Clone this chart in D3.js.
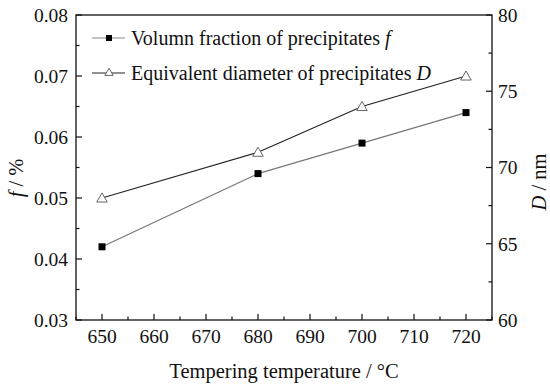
<!DOCTYPE html>
<html><head><meta charset="utf-8">
<script src="https://cdn.jsdelivr.net/npm/d3@7"></script>
<style>body{margin:0;background:#fff}svg{display:block}text{font-family:"Liberation Serif","Times New Roman",serif;fill:#111}</style>
</head><body>
<svg id="c" width="550" height="389"></svg>
<script>
const temps = [650, 680, 700, 720];
const fValues = [0.042, 0.054, 0.059, 0.064];
const dValues = [68, 71, 74, 76];
const xTicks = [650, 660, 670, 680, 690, 700, 710, 720];
const fTicks = [0.03, 0.04, 0.05, 0.06, 0.07, 0.08];
const dTicks = [60, 65, 70, 75, 80];

const svg = d3.select("#c");
const L = 76, R = 492, T = 15, B = 320;
const x = d3.scaleLinear().domain([645, 725]).range([L, R]);
const yf = d3.scaleLinear().domain([0.03, 0.08]).range([B, T]);
const yd = d3.scaleLinear().domain([60, 80]).range([B, T]);
const fs = 19.5;

// frame
svg.append("rect").attr("x", L).attr("y", T).attr("width", R - L).attr("height", B - T)
  .attr("fill", "none").attr("stroke", "#111").attr("stroke-width", 1.3);

// x axis
const xMinor = d3.range(645, 726, 5).filter(v => !xTicks.includes(v));
const gx = svg.append("g");
xTicks.forEach(v => gx.append("line").attr("x1", x(v)).attr("x2", x(v)).attr("y1", B).attr("y2", B - 6).attr("stroke", "#111").attr("stroke-width", 1.2));
xMinor.forEach(v => gx.append("line").attr("x1", x(v)).attr("x2", x(v)).attr("y1", B).attr("y2", B - 3.5).attr("stroke", "#111").attr("stroke-width", 1.2));
xTicks.forEach(v => gx.append("text").attr("x", x(v)).attr("y", 343).attr("text-anchor", "middle").attr("font-size", fs).text(v));

// left axis
const gl = svg.append("g");
fTicks.forEach(v => {
  gl.append("line").attr("x1", L).attr("x2", L + 6).attr("y1", yf(v)).attr("y2", yf(v)).attr("stroke", "#111").attr("stroke-width", 1.2);
  gl.append("text").attr("x", 68).attr("y", yf(v)).attr("dy", "0.35em").attr("text-anchor", "end").attr("font-size", fs).text(d3.format(".2f")(v));
});
d3.range(0.035, 0.08, 0.01).forEach(v => gl.append("line").attr("x1", L).attr("x2", L + 3.5).attr("y1", yf(v)).attr("y2", yf(v)).attr("stroke", "#111").attr("stroke-width", 1.2));

// right axis
const gr = svg.append("g");
dTicks.forEach(v => {
  gr.append("line").attr("x1", R).attr("x2", R - 6).attr("y1", yd(v)).attr("y2", yd(v)).attr("stroke", "#111").attr("stroke-width", 1.2);
  gr.append("text").attr("x", 498).attr("y", yd(v)).attr("dy", "0.35em").attr("text-anchor", "start").attr("font-size", fs).text(v);
});
[62.5, 67.5, 72.5, 77.5].forEach(v => gr.append("line").attr("x1", R).attr("x2", R - 3.5).attr("y1", yd(v)).attr("y2", yd(v)).attr("stroke", "#111").attr("stroke-width", 1.2));

// axis titles
svg.append("text").attr("x", 284).attr("y", 378).attr("text-anchor", "middle").attr("font-size", 20.5).text("Tempering temperature / °C");
const lt = svg.append("text").attr("transform", "translate(23,178) rotate(-90)").attr("text-anchor", "middle").attr("font-size", 20.5);
lt.append("tspan").attr("font-style", "italic").text("f");
lt.append("tspan").text(" / %");
const rt = svg.append("text").attr("transform", "translate(546,182) rotate(-90)").attr("text-anchor", "middle").attr("font-size", 20.5);
rt.append("tspan").attr("font-style", "italic").text("D");
rt.append("tspan").text(" / nm");

// series lines
const fData = temps.map((t, i) => [t, fValues[i]]);
const dData = temps.map((t, i) => [t, dValues[i]]);
svg.append("path").datum(fData).attr("fill", "none").attr("stroke", "#777").attr("stroke-width", 1.2)
  .attr("d", d3.line().x(d => x(d[0])).y(d => yf(d[1])));
svg.append("path").datum(dData).attr("fill", "none").attr("stroke", "#222").attr("stroke-width", 1.2)
  .attr("d", d3.line().x(d => x(d[0])).y(d => yd(d[1])));

const tri = d3.symbol().type(d3.symbolTriangle).size(48);
svg.selectAll(".sq").data(fData).join("rect").attr("x", d => x(d[0]) - 3.5).attr("y", d => yf(d[1]) - 3.5)
  .attr("width", 7).attr("height", 7).attr("fill", "#000");
svg.selectAll(".tri").data(dData).join("path").attr("d", tri)
  .attr("transform", d => `translate(${x(d[0])},${yd(d[1]) + 1})`).attr("fill", "#fff").attr("stroke", "#666").attr("stroke-width", 1);

// legend
const leg = svg.append("g");
leg.append("line").attr("x1", 92).attr("x2", 125).attr("y1", 38).attr("y2", 38).attr("stroke", "#888").attr("stroke-width", 1.2);
leg.append("rect").attr("x", 106).attr("y", 35).attr("width", 6).attr("height", 6).attr("fill", "#000");
const t1 = leg.append("text").attr("x", 131).attr("y", 44.5).attr("font-size", 20);
t1.append("tspan").text("Volumn fraction of precipitates ");
t1.append("tspan").attr("font-style", "italic").text("f");
leg.append("line").attr("x1", 92).attr("x2", 125).attr("y1", 73).attr("y2", 73).attr("stroke", "#222").attr("stroke-width", 1.2);
leg.append("path").attr("d", d3.symbol().type(d3.symbolTriangle).size(30)).attr("transform", "translate(109,73)")
  .attr("fill", "#fff").attr("stroke", "#666").attr("stroke-width", 1);
const t2 = leg.append("text").attr("x", 131).attr("y", 80).attr("font-size", 20);
t2.append("tspan").text("Equivalent diameter of precipitates ");
t2.append("tspan").attr("font-style", "italic").text("D");
</script>
</body></html>
